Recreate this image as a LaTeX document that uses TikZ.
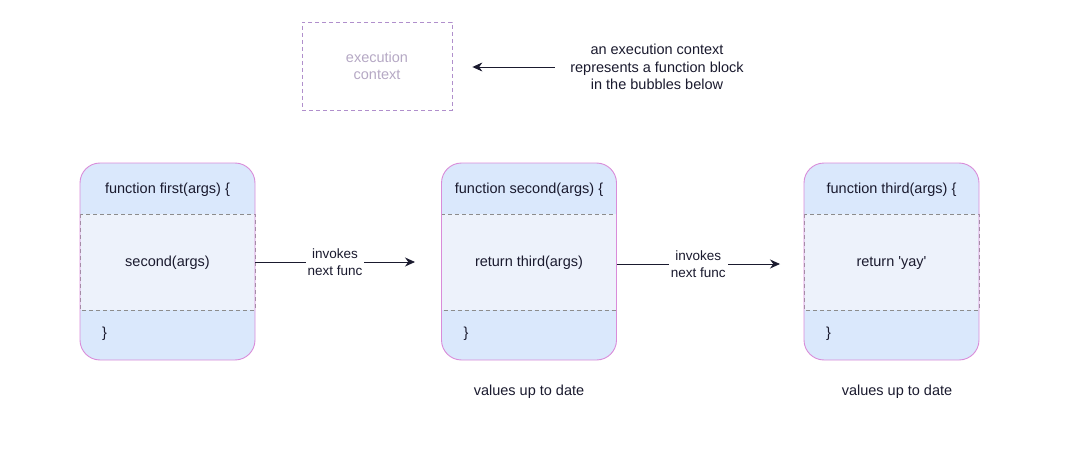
\documentclass[tikz,border=0pt]{standalone}
\usepackage{fontspec}
\setmainfont{Liberation Sans}
\usepackage{tikz}
\usetikzlibrary{arrows.meta,calc}

\definecolor{bandblue}{HTML}{DAE8FC}
\definecolor{midblue}{HTML}{EDF2FB}
\definecolor{bubbleline}{HTML}{D98CD9}
\definecolor{ctxline}{HTML}{B08FCC}
\definecolor{ctxtext}{HTML}{B5A8C4}
\definecolor{inkdark}{HTML}{1A1A2E}

\tikzset{
  every node/.style={font=\fontsize{14.5}{17.5}\selectfont, text=inkdark},
  bubble/.style={draw=bubbleline, line width=0.9pt, fill=bandblue, rounded corners=20pt},
  sepline/.style={draw=gray!90, dash pattern=on 4pt off 3pt, line width=0.7pt},
  callarrow/.style={draw=inkdark, line width=0.9pt, -{Stealth[length=10pt,width=9pt]}},
  arrowlabel/.style={fill=white, inner sep=2pt, align=center, font=\fontsize{13.5}{17}\selectfont},
}

\begin{document}
\begin{tikzpicture}[x=1pt,y=-1pt]
                \useasboundingbox (0,0) rectangle (1077,460);
                % legend
                \node [draw=ctxline, dash pattern=on 4pt off 3pt, line width=0.8pt, minimum width=150pt, minimum height=88pt, align=center, text=ctxtext] (ctx) at (377,66) {execution\\context};
                \node [align=center] (ctxnote) at (657,67) {an execution context\\represents a function block\\in the bubbles below};
                \coordinate (ctxfrom) at ($(ctxnote.west)+(-12,0)$);
                \coordinate (ctxto) at ($(ctx.east)+(20,1)$);
                \draw [callarrow] (ctxfrom) -- (ctxto);
                % the three function bubbles
                \foreach \fn/\cx/\head/\body in {first/167.5/{function first(args) \{}/{second(args)},
                                                 second/529/{function second(args) \{}/{return third(args)},
                                                 third/891.5/{function third(args) \{}/{return \textquotesingle yay\textquotesingle}} {
                    \fill [bubble, draw=none] (\cx-87.5,163) rectangle (\cx+87.5,360);
                    \fill [midblue] (\cx-87.5,214) rectangle (\cx+87.5,310);
                    \draw [sepline] (\cx-87.5,214) rectangle (\cx+87.5,310);
                    \draw [bubble, fill=none] (\cx-87.5,163) rectangle (\cx+87.5,360);
                    \node (\fn-head) at (\cx,190) {\head};
                    \node (\fn-body) at (\cx,263) {\body};
                    \node [anchor=west] (\fn-end) at (\cx-69,334) {\}};
                    \coordinate (\fn-left) at (\cx-87.5,262);
                    \coordinate (\fn-right) at (\cx+87.5,262);
                }
                \node (note2) at (529,392) {values up to date};
                \node (note3) at (897,392) {values up to date};
                % calls
                \coordinate (tip1) at (415,262);
                \coordinate (tip2) at (780,264);
                \draw [callarrow] (first-right) -- (tip1) node [arrowlabel, pos=0.5] (call1) {invokes\\next func};
                \draw [callarrow] (second-right) ++(0,2) coordinate (from2) (from2) -- (tip2) node [arrowlabel, pos=0.5] (call2) {invokes\\next func};
            \end{tikzpicture}
\end{document}
